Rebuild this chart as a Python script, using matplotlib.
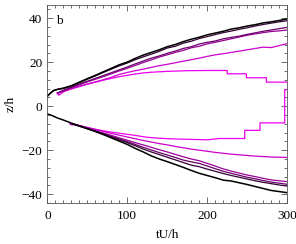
import matplotlib
matplotlib.use("Agg")
import matplotlib.pyplot as plt
from matplotlib.ticker import MultipleLocator

# time grids
t_full = [0, 4, 8, 12, 20, 30, 40, 50, 60, 70, 80, 90, 100, 110, 120, 130, 140, 150,
          160, 170, 180, 190, 200, 210, 220, 230, 240, 250, 260, 270, 280, 290, 300]
t_up = [13, 20, 30, 40, 50, 60, 70, 80, 90, 100, 110, 120, 130, 140, 150,
        160, 170, 180, 190, 200, 210, 220, 230, 240, 250, 260, 270, 280, 290, 300]
t_lo = [30, 40, 50, 60, 70, 80, 90, 100, 110, 120, 130, 140, 150,
        160, 170, 180, 190, 200, 210, 220, 230, 240, 250, 260, 270, 280, 290, 300]

# upper group (z > 0)
z_up0 = [4.5, 6.0, 7.2, 7.6, 8.2, 9.3, 10.9, 12.5, 14.0, 15.6, 17.2, 18.8, 20.0, 21.7, 23.2,
         24.4, 25.6, 27.0, 28.0, 29.3, 30.4, 31.3, 32.4, 33.2, 34.0, 35.0, 35.6, 36.4, 37.0,
         37.8, 38.3, 38.9, 39.6]
z_up1 = [4.5, 6.0, 7.0, 7.5, 8.0, 9.1, 10.6, 12.2, 13.7, 15.3, 16.8, 18.3, 19.6, 21.1, 22.4,
         23.6, 24.9, 26.4, 27.2, 28.6, 29.5, 30.7, 31.6, 32.5, 33.4, 34.1, 34.9, 35.6, 36.4,
         37.1, 37.7, 38.3, 38.8]
z_up2 = [6.0, 7.2, 8.6, 10.0, 11.3, 12.6, 13.9, 15.2, 16.5, 17.8, 19.2, 20.5, 21.8, 22.8,
         24.0, 25.0, 26.2, 27.0, 28.2, 29.0, 29.6, 30.6, 31.2, 31.8, 32.6, 33.3, 34.0, 34.6,
         35.2, 35.8]
z_up3 = [6.0, 7.0, 8.4, 9.7, 11.0, 12.2, 13.4, 14.7, 16.0, 17.2, 18.5, 19.8, 21.0, 22.3,
         23.3, 24.4, 25.3, 26.5, 27.2, 28.3, 29.0, 29.8, 30.6, 31.4, 32.2, 32.8, 33.4, 33.9,
         34.2, 34.6]
z_up4 = [5.8, 6.8, 8.0, 9.0, 10.0, 11.0, 12.0, 13.1, 14.4, 15.3, 16.1, 16.8, 17.6, 18.4,
         19.0, 19.7, 20.4, 21.1, 21.8, 22.6, 23.3, 23.8, 24.4, 25.0, 25.6, 26.2, 26.8, 26.6,
         27.5, 28.4]
t_up5 = [12, 14, 17, 20, 30, 40, 50, 60, 70, 80, 90, 100, 110, 120, 130, 150, 175, 200,
         225, 225, 249, 249, 274, 274, 300]
z_up5 = [6.0, 5.0, 5.6, 6.5, 7.8, 8.9, 10.0, 10.9, 11.8, 12.6, 13.4, 14.0, 14.6, 15.1, 15.4,
         15.8, 16.1, 16.2, 16.2, 14.7, 14.7, 12.9, 12.9, 10.9, 10.9]

# lower group (z < 0)
z_lo0 = [-3.5, -4.0, -4.6, -5.3, -6.3, -7.7, -9.0, -10.2, -11.5, -12.9, -14.4, -15.9, -17.4,
         -19.2, -20.8, -22.6, -24.0, -25.2, -26.5, -27.8, -29.2, -30.5, -31.5, -32.5, -33.6,
         -34.0, -34.8, -35.6, -36.5, -37.4, -38.3, -38.8, -39.3]
z_lo1 = [-8.0, -9.1, -10.3, -11.5, -12.8, -14.1, -15.3, -16.6, -18.0, -19.5, -20.8, -22.0,
         -23.2, -24.4, -25.6, -26.8, -27.5, -28.6, -29.6, -30.6, -31.5, -32.3, -33.1, -33.9,
         -34.6, -35.2, -35.8, -36.3]
z_lo2 = [-8.0, -9.0, -10.2, -11.3, -12.5, -13.7, -14.9, -16.1, -17.4, -18.7, -19.9, -21.1,
         -22.2, -23.3, -24.5, -25.3, -26.0, -27.2, -28.4, -29.6, -30.5, -31.4, -32.3, -33.0,
         -33.8, -34.5, -35.0, -35.5]
z_lo3 = [-8.0, -8.9, -10.0, -11.1, -12.2, -13.3, -14.4, -15.5, -16.6, -17.6, -18.7, -19.8,
         -20.8, -21.9, -23.0, -24.0, -24.8, -26.0, -27.2, -28.5, -29.5, -30.4, -31.3, -32.0,
         -32.8, -33.5, -33.9, -34.3]
z_lo4 = [-8.0, -8.8, -9.7, -10.6, -11.5, -12.4, -13.2, -14.0, -14.8, -15.6, -16.3, -17.0,
         -17.6, -18.3, -18.9, -19.5, -20.0, -20.5, -21.0, -21.4, -21.8, -22.1, -22.4, -22.7,
         -22.9, -23.1, -23.2, -23.3]
t_lo5 = [28, 31, 34, 40, 50, 60, 70, 80, 90, 100, 110, 124, 140, 160, 180, 200, 215,
         247, 247, 266, 266, 297, 297, 300]
z_lo5 = [-8.0, -8.6, -8.2, -8.8, -9.7, -10.5, -11.2, -11.8, -12.3, -12.8, -13.3, -14.1,
         -14.6, -14.9, -15.1, -15.3, -14.7, -14.7, -11.0, -11.0, -7.6, -7.6, 7.5, 7.5]

colors = ['#000000', '#330033', '#660066', '#990099', '#cc00cc', '#ee00ee']

plt.rcParams['font.family'] = ['Liberation Serif', 'DejaVu Serif']
plt.rcParams['font.size'] = 9.5

fig = plt.figure(figsize=(2.96, 2.44), dpi=100)
ax = fig.add_axes([0.160, 0.168, 0.810, 0.812])

ax.plot(t_up5, z_up5, color=colors[5], lw=0.9)
ax.plot(t_up, z_up4, color=colors[4], lw=0.9)
ax.plot(t_up, z_up3, color=colors[3], lw=0.9)
ax.plot(t_up, z_up2, color=colors[2], lw=0.9)
ax.plot(t_full, z_up1, color=colors[1], lw=0.9)
ax.plot(t_full, z_up0, color=colors[0], lw=1.1)

ax.plot(t_lo5, z_lo5, color=colors[5], lw=0.9)
ax.plot(t_lo, z_lo4, color=colors[4], lw=0.9)
ax.plot(t_lo, z_lo3, color=colors[3], lw=0.9)
ax.plot(t_lo, z_lo2, color=colors[2], lw=0.9)
ax.plot(t_lo, z_lo1, color=colors[1], lw=0.9)
ax.plot(t_full, z_lo0, color=colors[0], lw=1.1)

ax.set_xlim(0, 300)
ax.set_ylim(-44, 46)
ax.xaxis.set_major_locator(MultipleLocator(100))
ax.xaxis.set_minor_locator(MultipleLocator(10))
ax.yaxis.set_major_locator(MultipleLocator(20))
ax.yaxis.set_minor_locator(MultipleLocator(4))
ax.tick_params(which='both', direction='in', top=True, right=True, width=0.6, color='#555555')
ax.tick_params(which='major', length=4)
ax.tick_params(which='minor', length=2)
ax.tick_params(axis='x', pad=5)
for s in ax.spines.values():
    s.set_linewidth(0.6)
    s.set_color('#555555')

ax.set_xlabel('tU/h', labelpad=5)
ax.set_ylabel('z/h', labelpad=4)
ax.text(0.035, 0.95, 'b', transform=ax.transAxes, ha='left', va='top')

fig.savefig('out.png', dpi=100)
